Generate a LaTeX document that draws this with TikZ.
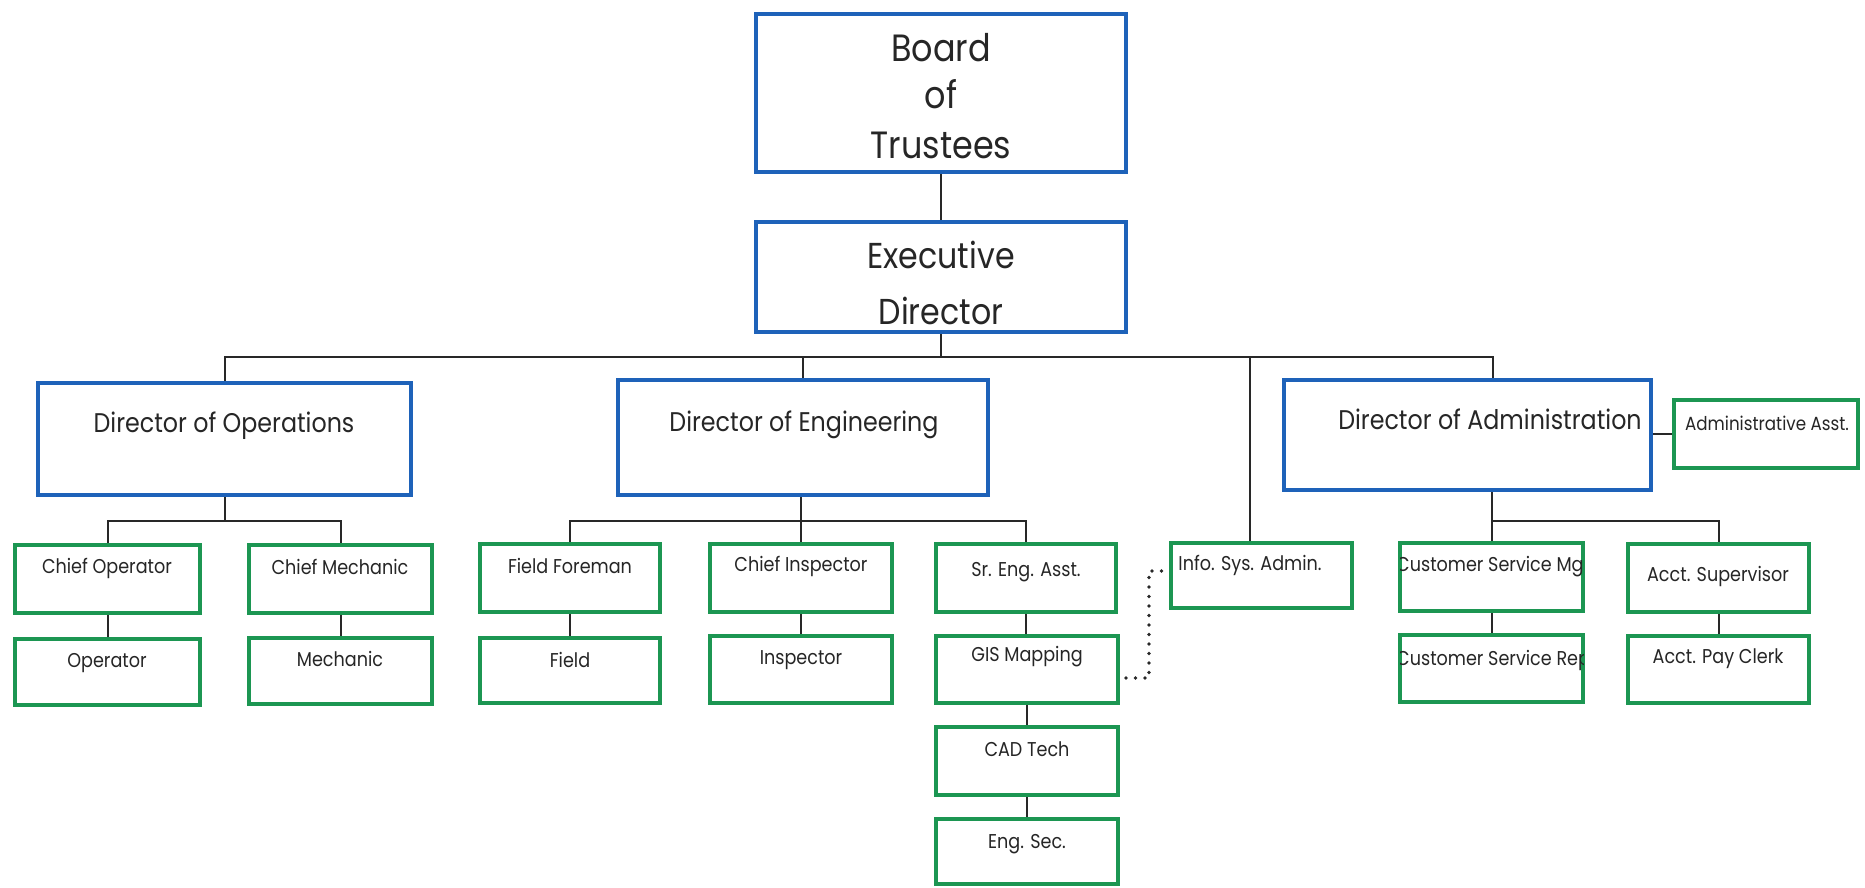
\documentclass[tikz,border=0pt]{standalone}
\usepackage{fontspec}
\setmainfont{Poppins}[FakeStretch=0.88]
\definecolor{orgblue}{RGB}{30,98,185}
\definecolor{orggreen}{RGB}{28,150,82}
\definecolor{linegray}{RGB}{40,40,40}
\newcommand\orgbox[9][lbl]{%
  % [#1 text style], #2 box style, #3 name, #4 x1, #5 y1, #6 x2, #7 y2, #8 text pos, #9 text
  \node[#2, minimum width={(#6-#4-4)*1pt}, minimum height={(#7-#5-4)*1pt}]
    (#3) at ({(#4+#6)/2},{(#5+#7)/2}) {};
  \node[#1] (#3-t) at (#8) {#9};}
\begin{document}
\begin{tikzpicture}[x=1pt,y=-1pt,
  bluebox/.style={draw=orgblue, line width=4.5pt, fill=white, inner sep=0pt, rectangle},
  greenbox/.style={draw=orggreen, line width=4pt, fill=white, inner sep=0pt, rectangle},
  lbl/.style={inner sep=0pt, text height=14pt, text depth=0pt, text=black!85, font=\fontsize{20}{24}\selectfont},
  bigl/.style={lbl, text height=26.6pt, font=\fontsize{38}{46}\selectfont},
  exl/.style={lbl, text height=25.2pt, font=\fontsize{36}{44}\selectfont},
  dirl/.style={lbl, text height=18.9pt, font=\fontsize{27}{32}\selectfont},
  asl/.style={lbl, text height=13.3pt, font=\fontsize{19}{23}\selectfont},
  conn/.style={draw=linegray, line width=2pt},
  dotconn/.style={draw=linegray, line width=3.6pt, dash pattern=on 0pt off 9.5pt, line cap=round}
]
\useasboundingbox (0,0) rectangle (1865,887);
\fill[white] (0,0) rectangle (1865,887);

% top level
\node[bluebox, minimum width=370pt, minimum height=158pt] (board) at (941,93) {};
\node[bigl] (board-t1) at (941,48) {Board};
\node[bigl] (board-t2) at (941,95) {of};
\node[bigl] (board-t3) at (941,145) {Trustees};

\node[bluebox, minimum width=370pt, minimum height=110pt] (exec) at (941,277) {};
\node[exl] (exec-t1) at (941,256) {Executive};
\node[exl] (exec-t2) at (941,312) {Director};

% directors
\orgbox[dirl]{bluebox}{ops}{36}{381}{413}{497}{224,423}{Director of Operations}
\orgbox[dirl]{bluebox}{eng}{616}{378}{990}{497}{804,422}{Director of Engineering}
\orgbox[dirl]{bluebox}{adm}{1282}{378}{1653}{492}{1490,420}{Director of Administration}
\orgbox[asl]{greenbox}{asst}{1672}{398}{1860}{470}{1767,424}{Administrative Asst.}

% operations
\orgbox{greenbox}{cop}{13}{543}{202}{615}{107,566}{Chief Operator}
\orgbox{greenbox}{cme}{247}{543}{434}{615}{340,567}{Chief Mechanic}
\orgbox{greenbox}{op}{13}{637}{202}{707}{107,660}{Operator}
\orgbox{greenbox}{me}{247}{636}{434}{706}{340,659}{Mechanic}

% engineering
\orgbox{greenbox}{ff}{478}{542}{662}{614}{570,566}{Field Foreman}
\orgbox{greenbox}{ci}{708}{542}{894}{614}{801,564}{Chief Inspector}
\orgbox{greenbox}{sea}{934}{542}{1118}{614}{1026,569}{Sr. Eng. Asst.}
\orgbox{greenbox}{fld}{478}{636}{662}{705}{570,660}{Field}
\orgbox{greenbox}{ins}{708}{634}{894}{705}{801,657}{Inspector}
\orgbox{greenbox}{gis}{934}{634}{1120}{705}{1027,654}{GIS Mapping}
\orgbox{greenbox}{cad}{934}{725}{1120}{797}{1027,749}{CAD Tech}
\orgbox{greenbox}{sec}{934}{817}{1120}{886}{1027,841}{Eng. Sec.}

% info sys
\orgbox{greenbox}{isa}{1169}{541}{1354}{610}{1250,563}{Info. Sys. Admin.}

% administration
\orgbox{greenbox}{csm}{1398}{541}{1585}{613}{1491,564}{}
\orgbox{greenbox}{acs}{1626}{542}{1811}{614}{1718,574}{Acct. Supervisor}
\orgbox{greenbox}{csr}{1398}{633}{1585}{704}{1491,658}{}
\orgbox{greenbox}{apc}{1626}{634}{1811}{705}{1718,656}{Acct. Pay Clerk}
\begin{scope}
  \clip (1400,543) rectangle (1583,611);
  \node[lbl, anchor=west] (csm-tx) at (1396,564) {Customer Service Mgr};
\end{scope}
\begin{scope}
  \clip (1400,635) rectangle (1583,702);
  \node[lbl, anchor=west] (csr-tx) at (1396,658) {Customer Service Rep};
\end{scope}

% connectors
\coordinate (bus) at (941,357);
\coordinate (admtop) at (1493,378);
\coordinate (isatop) at (1250,541);
\draw[conn] (board.south) -- (exec.north);
\draw[conn] (exec.south) -- (bus);
\draw[conn] (ops.north) -- (ops.north |- bus) -- (admtop |- bus) -- (admtop);
\draw[conn] (eng.north) -- (eng.north |- bus);
\draw[conn] (isatop) -- (isatop |- bus);
\draw[conn] (adm.east |- asst.west) -- (asst.west);

\coordinate (b2) at (0,521);
\draw[conn] (ops.south) -- (ops.south |- b2);
\draw[conn] (cop.north) -- (cop.north |- b2) -- (cme.north |- b2) -- (cme.north);
\draw[conn] (ci.north |- eng.south) -- (ci.north);
\draw[conn] (ff.north) -- (ff.north |- b2) -- (sea.north |- b2) -- (sea.north);
\draw[conn] (adm.south -| csm.north) -- (csm.north);
\draw[conn] (csm.north |- b2) -- (acs.north |- b2) -- (acs.north);

\draw[conn] (cop.south) -- (op.north);
\draw[conn] (cme.south) -- (me.north);
\draw[conn] (ff.south) -- (fld.north);
\draw[conn] (ci.south) -- (ins.north);
\draw[conn] (sea.south) -- (sea.south |- gis.north);
\draw[conn] (gis.south) -- (cad.north);
\draw[conn] (cad.south) -- (sec.north);
\draw[conn] (csm.south) -- (csr.north);
\draw[conn] (acs.south) -- (apc.north);

% dotted link
\coordinate (dotx) at (1149,0);
\draw[dotconn] ([xshift=6pt]gis.east |- 0,678) -- (dotx |- 0,678) -- (dotx |- 0,571) -- ([xshift=-4pt]isa.west |- 0,571);
\end{tikzpicture}
\end{document}
